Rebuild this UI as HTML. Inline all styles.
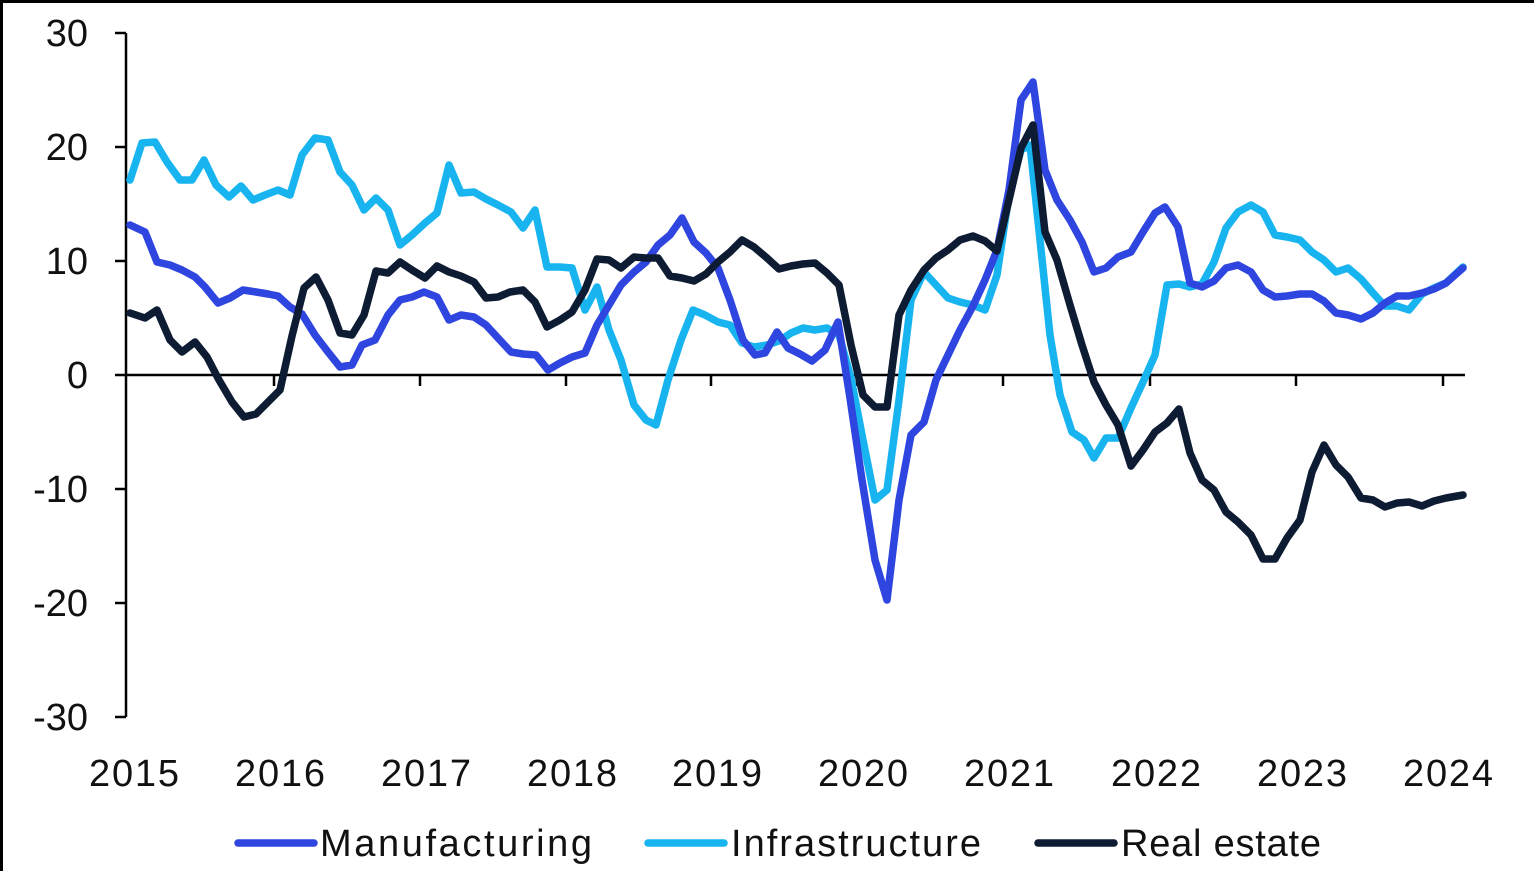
<!DOCTYPE html><html><head><style>body{margin:0;background:#fff}svg{display:block}text{font-family:"Liberation Sans",sans-serif;fill:#111}</style></head><body>
<svg width="1534" height="871" viewBox="0 0 1534 871">
<rect x="0" y="0" width="1534" height="871" fill="#fff"/>
<rect x="0" y="0" width="1534" height="3" fill="#000"/><rect x="0" y="0" width="3" height="871" fill="#000"/>
<g stroke="#000" stroke-width="2.5" fill="none">
<line x1="126" y1="33" x2="126" y2="717"/>
<line x1="115" y1="33" x2="126" y2="33"/><line x1="115" y1="147" x2="126" y2="147"/><line x1="115" y1="261" x2="126" y2="261"/><line x1="115" y1="375" x2="126" y2="375"/><line x1="115" y1="489" x2="126" y2="489"/><line x1="115" y1="603" x2="126" y2="603"/><line x1="115" y1="717" x2="126" y2="717"/>
<line x1="126" y1="375" x2="1465" y2="375"/>
<path d="M274 375v11M420 375v11M566 375v11M711 375v11M857 375v11M1003 375v11M1150 375v11M1296 375v11M1443 375v11"/>
</g>
<g font-size="38" text-anchor="end"><text x="88" y="46">30</text><text x="88" y="160">20</text><text x="88" y="274">10</text><text x="88" y="388">0</text><text x="88" y="502">-10</text><text x="88" y="616">-20</text><text x="88" y="730">-30</text></g>
<g font-size="38" text-anchor="middle"><text x="134" y="786" textLength="90">2015</text><text x="280" y="786" textLength="90">2016</text><text x="426" y="786" textLength="90">2017</text><text x="572" y="786" textLength="90">2018</text><text x="717" y="786" textLength="90">2019</text><text x="863" y="786" textLength="90">2020</text><text x="1009" y="786" textLength="90">2021</text><text x="1156" y="786" textLength="90">2022</text><text x="1302" y="786" textLength="90">2023</text><text x="1448" y="786" textLength="90">2024</text></g>
<g fill="none" stroke-width="7.5" stroke-linejoin="round" stroke-linecap="round">
<polyline stroke="#17b4ef" points="130,180 142,143 155,142 167,162 180,180 192,180 204,160 216,185 229,197 241,186 253,200 265,195 278,190 290,195 302,155 315,138 328,140 340,172 352,185 364,210 376,198 388,210 400,245 412,235 425,223 437,213 449,165 461,193 474,192 486,199 498,205 511,212 523,228 535,210 547,267 560,267 572,268 585,310 597,287 609,330 621,360 634,405 646,420 656,425 668,380 681,340 693,310 705,315 718,322 730,325 742,343 754,347 767,345 779,341 791,333 803,328 815,330 827,328 839,335 851,378 863,440 875,500 887,490 899,400 911,300 924,272 936,285 948,298 960,302 973,305 985,310 997,275 1009,195 1021,150 1030,145 1040,240 1050,335 1060,395 1072,432 1084,440 1094,458 1106,438 1118,438 1131,408 1143,382 1155,355 1167,285 1179,284 1190,287 1202,284 1214,262 1226,228 1238,212 1251,205 1263,212 1275,235 1287,237 1300,240 1312,252 1324,260 1336,272 1348,268 1361,279 1373,293 1385,306 1397,306 1409,310 1422,294 1434,288 1446,283 1463,267"/>
<polyline stroke="#2f45e0" points="130,225 145,232 157,262 170,265 182,270 195,277 205,287 218,303 230,298 243,290 256,292 268,294 278,296 290,307 302,314 315,335 328,352 340,367 352,365 362,345 375,340 388,315 400,300 412,297 424,292 437,297 449,320 461,315 474,317 486,325 498,338 511,352 523,354 536,355 548,370 560,363 572,357 585,353 597,325 609,305 621,285 634,272 646,262 658,245 670,235 682,218 694,242 706,253 718,268 730,300 743,340 755,355 765,353 777,332 788,348 800,354 812,361 825,350 838,322 850,398 862,480 875,560 887,600 899,500 911,435 924,422 936,380 948,355 960,330 973,306 985,280 997,250 1009,190 1021,100 1033,82 1045,170 1057,200 1070,220 1082,242 1094,272 1106,268 1118,257 1131,252 1143,232 1155,213 1165,207 1178,227 1190,283 1202,287 1214,281 1226,268 1238,265 1251,272 1263,290 1275,297 1287,296 1300,294 1312,294 1324,301 1336,313 1348,315 1361,319 1373,313 1385,303 1397,296 1409,296 1422,293 1434,289 1446,283 1463,268"/>
<polyline stroke="#0d1b33" points="130,313 145,318 157,310 170,340 182,352 195,342 207,357 219,380 232,402 244,417 256,414 268,402 280,390 292,336 304,288 316,277 328,300 340,333 352,335 364,315 376,271 388,273 400,262 412,270 425,278 437,266 449,272 461,276 474,282 486,298 498,297 510,292 523,290 535,302 547,327 560,320 572,312 585,290 597,259 609,260 621,268 634,257 646,258 658,258 670,276 682,278 694,281 706,274 718,262 730,252 742,240 754,247 767,258 779,269 791,266 803,264 815,263 827,273 839,285 851,345 863,395 875,407 887,407 899,315 911,290 924,270 936,258 948,250 960,240 973,236 985,241 997,251 1009,200 1021,148 1033,125 1045,232 1057,260 1070,305 1082,345 1094,382 1106,405 1118,425 1131,466 1143,450 1155,432 1167,423 1179,409 1190,453 1202,480 1214,490 1226,512 1238,522 1251,535 1263,559 1275,559 1287,538 1300,520 1312,472 1324,445 1336,465 1348,477 1361,498 1373,500 1385,507 1397,503 1409,502 1422,506 1434,501 1446,498 1463,495"/>
<line x1="238" y1="843" x2="314" y2="843" stroke="#2f45e0"/>
<line x1="648" y1="843" x2="724" y2="843" stroke="#17b4ef"/>
<line x1="1038" y1="843" x2="1114" y2="843" stroke="#0d1b33"/>
</g>
<g font-size="38"><text x="320" y="856" textLength="272">Manufacturing</text><text x="731" y="856" textLength="250">Infrastructure</text><text x="1121" y="856" textLength="200">Real estate</text></g>
</svg></body></html>
